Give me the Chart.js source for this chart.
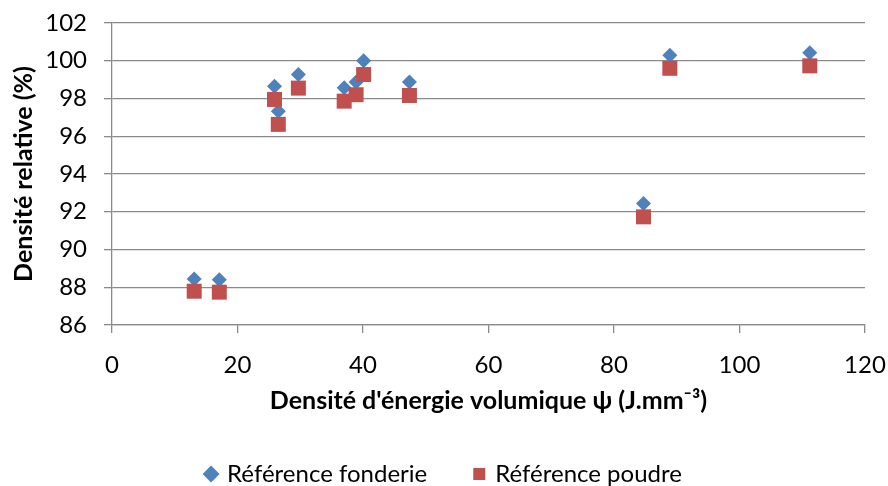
<!DOCTYPE html>
<html>
<head>
<meta charset="utf-8">
<script src="https://cdn.jsdelivr.net/npm/chart.js@4.4.1/dist/chart.umd.min.js"></script>
<style>
  html, body { margin: 0; padding: 0; background: #fff; }
  #box { width: 888px; height: 486px; }
</style>
</head>
<body>
<div id="box"><canvas id="myChart" width="888" height="486"></canvas></div>
<script>
// Données
const energie = [13.1, 17.1, 25.9, 26.5, 29.7, 37.0, 38.9, 40.1, 47.4, 84.7, 88.9, 111.2];
const refFonderie = [88.44, 88.40, 98.65, 97.33, 99.27, 98.57, 98.88, 100.0, 98.88, 92.44, 100.29, 100.43];
const refPoudre = [87.79, 87.74, 97.95, 96.63, 98.55, 97.86, 98.20, 99.27, 98.16, 91.73, 99.60, 99.73];
const seriesNames = ["Référence fonderie", "Référence poudre"];
const xTicks = [0, 20, 40, 60, 80, 100, 120];
const yTicks = [86, 88, 90, 92, 94, 96, 98, 100, 102];

const grille = "#8a8a8a";
const police = "Lato, 'Open Sans', sans-serif";

const toPoints = (ys) => energie.map((x, i) => ({ x: x, y: ys[i] }));

const ctx = document.getElementById("myChart").getContext("2d");

const myChart = new Chart(ctx, {
  type: "scatter",
  data: {
    datasets: [
      {
        label: seriesNames[0],
        data: toPoints(refFonderie),
        pointStyle: "rectRot",
        pointRadius: 7.5,
        pointHoverRadius: 7.5,
        backgroundColor: "#4F81BD",
        borderColor: "#4F81BD",
        borderWidth: 0,
        order: 1,
      },
      {
        label: seriesNames[1],
        data: toPoints(refPoudre),
        pointStyle: "rect",
        pointRadius: 10.6,
        pointHoverRadius: 10.6,
        backgroundColor: "#C0504D",
        borderColor: "#C0504D",
        borderWidth: 0,
        order: 0,
      },
    ],
  },
  options: {
    responsive: false,
    animation: false,
    // marge gauche pour centrer la légende comme dans Excel
    layout: { padding: { top: 23, right: 23, left: 24, bottom: -10 } },
    plugins: {
      tooltip: { enabled: false },
      legend: {
        position: "bottom",
        labels: {
          usePointStyle: true,
          boxHeight: 12,
          boxWidth: 8,
          padding: 48,
          color: "#000",
          font: { family: police, size: 24 },
          sort: (a, b) => a.datasetIndex - b.datasetIndex,
        },
      },
    },
    scales: {
      x: {
        type: "linear",
        min: 0,
        max: 120,
        afterBuildTicks: (scale) => { scale.ticks = xTicks.map((v) => ({ value: v })); },
        afterFit: (scale) => {
          scale.height = 89;
          scale.paddingLeft = 0;
          scale.paddingRight = 0;
        },
        grid: { drawOnChartArea: false, drawTicks: true, tickLength: 8, color: grille, lineWidth: 1.3 },
        border: { color: grille, width: 1.3 },
        ticks: { color: "#000", padding: 18, maxRotation: 0, font: { family: police, size: 24 } },
        title: {
          display: true,
          text: "Densité d'énergie volumique ψ (J.mm⁻³)",
          color: "#000",
          font: { family: police, size: 25, weight: "bold" },
          padding: { top: 0, bottom: -2 },
        },
      },
      y: {
        type: "linear",
        min: 86,
        max: 102,
        afterBuildTicks: (scale) => { scale.ticks = yTicks.map((v) => ({ value: v })); },
        afterFit: (scale) => {
          scale.width = 88;
          scale.paddingTop = 0;
          scale.paddingBottom = 0;
        },
        grid: { drawTicks: true, tickLength: 8, color: grille, lineWidth: 1.3 },
        border: { color: grille, width: 1.3 },
        ticks: { color: "#000", padding: 17, font: { family: police, size: 24 } },
        title: {
          display: true,
          text: "Densité relative (%)",
          color: "#000",
          font: { family: police, size: 25, weight: "bold" },
          padding: { top: -15, bottom: 0 },
        },
      },
    },
  },
});
</script>
</body>
</html>
